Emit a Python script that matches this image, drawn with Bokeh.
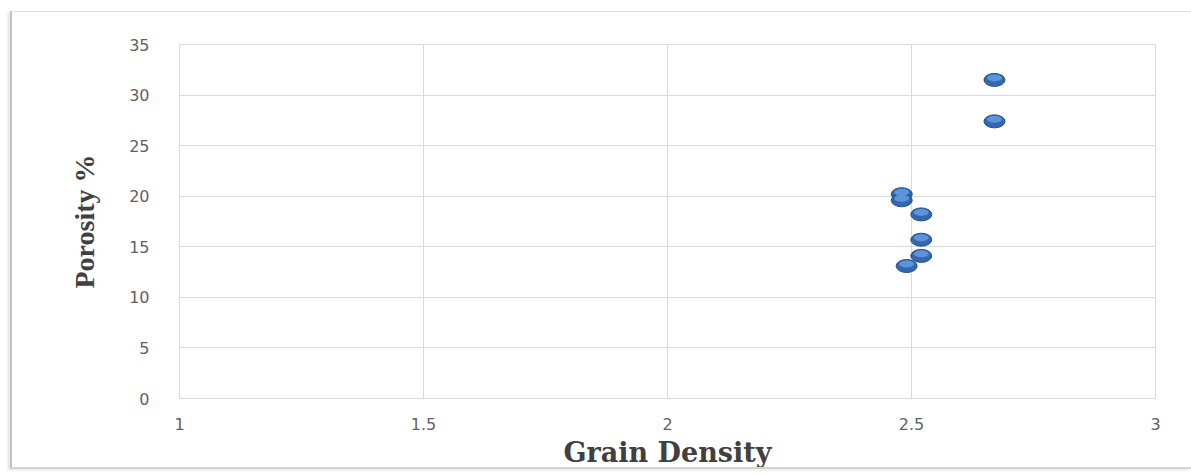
from bokeh.plotting import figure
from bokeh.models import (FixedTicker, NumeralTickFormatter, Range1d, ColumnDataSource)
from bokeh.embed import file_html
from bokeh.resources import INLINE

# Data
grain_density = [2.67, 2.67, 2.48, 2.48, 2.52, 2.52, 2.52, 2.49]
porosity = [31.5, 27.4, 20.2, 19.6, 18.2, 15.7, 14.1, 13.1]
x_ticks = [1, 1.5, 2, 2.5, 3]
y_ticks = [0, 5, 10, 15, 20, 25, 30, 35]
x_title = "Grain Density"
y_title = "Porosity %"

p = figure(width=1181, height=458, output_backend="svg", toolbar_location=None,
           x_range=Range1d(1, 3), y_range=Range1d(0, 35),
           min_border_left=167, min_border_right=38, min_border_top=32, min_border_bottom=70)
p.margin = (11, 0, 0, 10)
p.styles = {"border-left": "2px solid #c4c4c4", "border-top": "1px solid #e2e2e2",
            "border-bottom": "2px solid #d4d4d4",
            "box-shadow": "-2px 1px 3px rgba(0,0,0,0.12)"}
p.background_fill_color = "white"
p.border_fill_color = "white"
p.outline_line_color = "#d9d9d9"

src = ColumnDataSource(dict(x=grain_density, y=porosity,
                            yh=[v + 0.2 for v in porosity]))
# base ellipse (dark rim), then lighter body for 3D look
p.ellipse("x", "y", width=21, height=13, width_units="screen", height_units="screen",
          source=src, fill_color="#3368b0", line_color="#254f8a", line_width=1)
p.ellipse("x", "yh", width=15, height=7, width_units="screen", height_units="screen",
          source=src, fill_color="#6099dc", line_color=None, fill_alpha=0.9)

for ax in (p.xaxis[0], p.yaxis[0]):
    ax.axis_line_color = "#d9d9d9"
    ax.major_tick_line_color = None
    ax.minor_tick_line_color = None
    ax.major_label_text_font = "DejaVu Sans"
    ax.major_label_text_font_size = "16px"
    ax.major_label_text_color = "#5f5f66"
    ax.axis_label_text_font_style = "bold"
    ax.axis_label_text_color = "#404040"

p.xaxis.ticker = FixedTicker(ticks=x_ticks)
p.yaxis.ticker = FixedTicker(ticks=y_ticks)
p.xaxis.formatter = NumeralTickFormatter(format="0.[0]")
p.yaxis.formatter = NumeralTickFormatter(format="0")
p.xaxis.major_label_standoff = 13
p.yaxis.major_label_standoff = 24

p.xaxis.axis_label = x_title
p.xaxis.axis_label_text_font = "DejaVu Serif"
p.xaxis.axis_label_text_font_size = "27px"
p.xaxis.axis_label_standoff = 4
p.yaxis.axis_label = y_title
p.yaxis.axis_label_text_font = "Liberation Serif, Times New Roman, serif"
p.yaxis.axis_label_text_font_size = "28px"
p.yaxis.axis_label_standoff = 26

p.xgrid.grid_line_color = "#d9d9d9"
p.ygrid.grid_line_color = "#d9d9d9"

open("out.html", "w").write(file_html(p, INLINE))
